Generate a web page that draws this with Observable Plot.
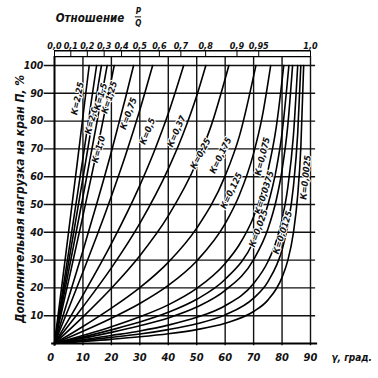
<!DOCTYPE html>
<html><head><meta charset="utf-8">
<script src="https://cdn.jsdelivr.net/npm/d3@7"></script>
<script src="https://cdn.jsdelivr.net/npm/@observablehq/plot@0.6"></script>
<style>
body{margin:0;background:#fff;}
svg{font-family:"DejaVu Sans Condensed","DejaVu Sans",sans-serif;}
</style></head><body><div id="chart"></div>
<script>
// curve identifiers (K values)
const kValues = ["2,25","2,0","1,5","1,25","1,0","0,75","0,5","0,37","0,25","0,175","0,125","0,075","0,05","0,0375","0,025","0,0125","0,0075","0,0025"];
// angle gamma (deg) readings per curve
const gammaPts = [
 [0,4,8,12.2],
 [0,5,10,14.8],
 [0,5,10,14,16.5],
 [0,5,10,15,18.5],
 [0,5,10,15,21],
 [0,5,10,15,20,25,27.8],
 [0,5,10,15,20,25,30,34.5],
 [0,10,20,30,35,40,45.4],
 [0,10,20,30,40,45,50,53.2],
 [0,10,20,30,40,50,55,61.3],
 [0,10,20,30,40,50,60,65,70.8],
 [0,10,20,30,40,50,60,65,70,73,76],
 [0,20,30,40,50,60,65,70,75,78,80.6],
 [0,20,30,40,50,60,70,75,78,80,82.4],
 [0,20,30,40,50,60,70,75,78,80,82,83.7],
 [0,20,30,40,50,60,70,75,78,80,82,84,85.5],
 [0,20,30,40,50,60,70,75,80,82,84,85.5,86.6],
 [0,20,30,40,50,60,70,75,80,82,84,85.5,86.6,87.6]
];
// additional load P, % readings per curve
const piPts = [
 [0,32.3,65,100],
 [0,33.1,66.7,100],
 [0,29.5,59.5,84.2,100],
 [0,26.2,52.7,80.1,100],
 [0,22.8,45.9,69.8,100],
 [0,16.6,33.4,50.8,69,88.5,100],
 [0,12.7,25.7,39,53,67.8,84,100],
 [0,17.4,35.9,56.9,69,82.7,100],
 [0,13.2,27.2,43.2,62.8,74.8,89.1,100],
 [0,9.6,19.9,31.6,45.9,65.2,78.1,100],
 [0,6.1,12.7,20.1,29.2,41.5,60.3,74.6,100],
 [0,4.4,9.1,14.4,20.9,29.7,43.1,53.4,68.4,81.4,100],
 [0,6,9.6,13.9,19.8,28.8,35.6,45.6,62,78.1,100],
 [0,4.9,7.7,11.2,15.9,23.1,36.7,49.8,62.8,75.7,100],
 [0,4,6.4,9.2,13.1,19.1,30.2,41.1,51.8,62.4,78.3,100],
 [0,2.9,4.5,6.6,9.4,13.6,21.6,29.4,37,44.6,56,74.9,100],
 [0,2.2,3.4,5,7.1,10.3,16.3,22.2,33.7,42.3,56.5,75.5,100],
 [0,1.5,2.4,3.5,5,7.3,11.5,15.6,23.8,29.8,39.9,53.3,70.5,100]
];
// curve labels and where they sit (gamma, P) and their tilt
const labelTexts = ["К=2,25","К=2,0","К=1,5","К=1,25","К=1,0","К=0,75","К=0,5","К=0,37","К=0,25","К=0,175","К=0,125","К=0,075","К=0,0375","К=0,025","К=0,0125","К=0,0025"];
const labelGamma = [8.1,13.0,16.2,19.3,15.5,26.0,32.7,42.9,51.3,58.4,62.2,73.1,73.8,71.7,80.2,88.3];
const labelPi    = [88.1,80.2,88.8,88.5,69.8,82.7,76.3,76.3,68.3,67.6,55.0,67.3,54.3,41.4,39.9,59.7];
const labelTilt  = [-78,-74,-74,-72,-74,-70,-68,-66,-62,-64,-64,-76,-72,-70,-72,-84];
// axis ticks
const xTicks = [0,10,20,30,40,50,60,70,80,90];
const yTicks = [10,20,30,40,50,60,70,80,90,100];
const ratioTicks = [0,0.1,0.2,0.3,0.4,0.5,0.6,0.7,0.8,0.9,0.95,1.0];
const ratioLabels = ["0,0","0,1","0,2","0,3","0,4","0,5","0,6","0,7","0,8","0,9","0,95","1,0"];

const rows = kValues.flatMap((k,i)=>gammaPts[i].map((g,j)=>({k,g,p:piPts[i][j]})));
const labels = labelTexts.map((t,i)=>({t,g:labelGamma[i],p:labelPi[i],r:labelTilt[i]}));
const ratioRows = ratioTicks.map((r,i)=>({g:Math.asin(r)*180/Math.PI, t:ratioLabels[i]}));

const font = {fontStyle:"italic", fontWeight:"bold", fill:"#111"};
const plot = Plot.plot({
  width:378, height:378,
  x:{domain:[0,90], range:[54,310], axis:null},
  y:{domain:[0,100], range:[343,65], axis:null},
  marks:[
    // grid
    Plot.ruleX(xTicks.slice(1), {y1:-0.8, y2:103.2, stroke:"#111", strokeWidth:1.4}),
    Plot.ruleY(yTicks, {x1:-3.6, x2:91.8, stroke:"#111", strokeWidth:1.4}),
    Plot.ruleX([0], {y1:-1, y2:103.2, stroke:"#000", strokeWidth:2}),
    Plot.ruleY([0], {x1:-1, x2:92.5, stroke:"#000", strokeWidth:2.2}),
    // top ratio scale
    Plot.ruleY([103.2], {x1:0, x2:90, stroke:"#000", strokeWidth:1.2}),
    Plot.ruleY([105.3], {x1:0, x2:90, stroke:"#000", strokeWidth:1.6}),
    Plot.ruleX(ratioRows, {x:"g", y1:103.2, y2:105.3, stroke:"#000", strokeWidth:1}),
    Plot.text(ratioRows, {x:"g", y:106, text:"t", lineAnchor:"bottom", fontSize:9, ...font}),
    Plot.text(["Отношение"], {x:12.5, y:117, text:d=>d, fontSize:11.5, ...font}),
    Plot.text(["P"], {x:29.5, y:119.5, text:d=>d, fontSize:8, ...font}),
    Plot.text(["Q"], {x:29.5, y:115.3, text:d=>d, fontSize:8, ...font}),
    Plot.ruleY([117.5], {x1:28.4, x2:30.6, stroke:"#111", strokeWidth:1}),
    // curves
    Plot.line(rows, {x:"g", y:"p", z:"k", curve:"monotone-x", stroke:"#000", strokeWidth:1.6}),
    // curve labels
    Plot.text(labels, {x:"g", y:"p", text:"t", rotate:"r", fontSize:9, stroke:"#fff", strokeWidth:2, paintOrder:"stroke", ...font}),
    // tick labels
    Plot.text(yTicks, {x:-3.9, y:d=>d, text:d=>String(d), textAnchor:"end", fontSize:10.5, ...font}),
    Plot.text(xTicks, {x:d=>d===0?-1.3:d, y:-5, text:d=>String(d), fontSize:11, ...font}),
    Plot.text(["γ, град."], {x:104.5, y:-5, text:d=>d, fontSize:10, ...font}),
    Plot.text(["Дополнительная нагрузка на кран П, %"], {x:-12, y:52, text:d=>d, rotate:-90, fontSize:12, ...font})
  ]
});
document.getElementById("chart").appendChild(plot);
</script></body></html>
